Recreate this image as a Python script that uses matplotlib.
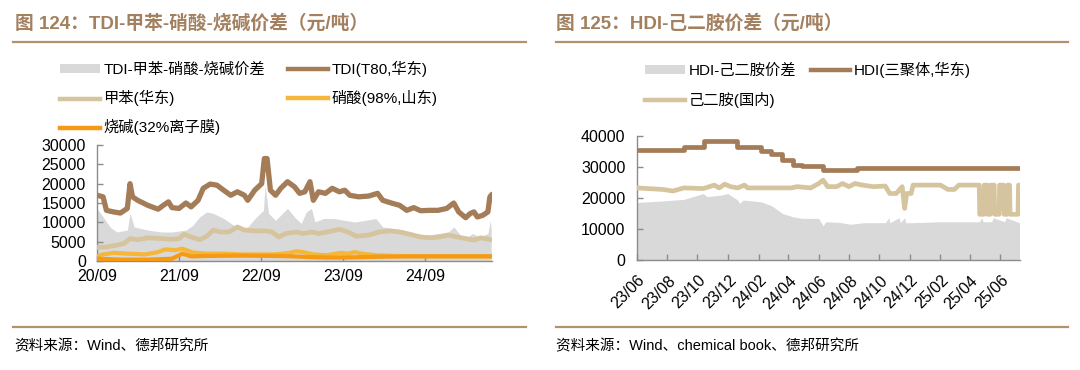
import numpy as np
import pandas as pd
import matplotlib
matplotlib.use("Agg")
import matplotlib.pyplot as plt
import matplotlib.dates as mdates
from matplotlib.lines import Line2D
from matplotlib.patches import Patch
from matplotlib.transforms import ScaledTranslation

plt.rcParams['font.family'] = ['Liberation Sans', 'Noto Sans CJK SC']
plt.rcParams['axes.unicode_minus'] = False

# ---------------- left chart data (元/吨) ----------------
tdi_dates = ["2020-09-01", "2020-09-28", "2020-10-13", "2020-11-13", "2020-12-14", "2021-01-14",
             "2021-01-26", "2021-02-06", "2021-03-01", "2021-04-15", "2021-05-31", "2021-06-23",
             "2021-07-16", "2021-08-01", "2021-09-01", "2021-10-02", "2021-10-25", "2021-11-25",
             "2021-12-18", "2022-01-18", "2022-02-17", "2022-03-19", "2022-04-19", "2022-05-19",
             "2022-06-19", "2022-07-04", "2022-08-04", "2022-09-04", "2022-09-16", "2022-09-28",
             "2022-10-13", "2022-11-05", "2022-11-28", "2022-12-28", "2023-01-28", "2023-02-20",
             "2023-03-15", "2023-04-07", "2023-04-22", "2023-05-15", "2023-06-15", "2023-07-15",
             "2023-08-16", "2023-09-09", "2023-10-01", "2023-11-09", "2023-12-25", "2024-02-02",
             "2024-02-25", "2024-04-03", "2024-05-10", "2024-06-11", "2024-07-12", "2024-08-12",
             "2024-09-19", "2024-10-28", "2024-12-06", "2025-01-06", "2025-01-28", "2025-02-28",
             "2025-03-21", "2025-04-06", "2025-04-21", "2025-05-15", "2025-06-07", "2025-06-16",
             "2025-06-22"]
tdi = [17000, 16600, 13100, 12700, 12400, 13600,
       20000, 16600, 15700, 14400, 13400, 14400,
       15300, 13800, 13600, 15000, 14000, 15700,
       18800, 19900, 19600, 18300, 17000, 17900,
       17000, 15700, 18300, 20000, 26500, 26500,
       18300, 17000, 18800, 20500, 19200, 17500,
       17900, 20500, 15700, 17900, 17500, 18800,
       17900, 18300, 17000, 16600, 16800, 17500,
       15700, 15000, 14400, 13100, 13800, 13000,
       13100, 13100, 13600, 15000, 12700, 11200,
       12300, 12700, 11400, 11800, 12700, 16600,
       17000]

tol_dates = ["2020-09-01", "2020-10-13", "2020-11-28", "2020-12-29", "2021-01-26", "2021-03-01",
             "2021-04-15", "2021-06-16", "2021-08-01", "2021-09-01", "2021-09-24", "2021-10-25",
             "2021-12-02", "2022-01-02", "2022-02-01", "2022-03-04", "2022-04-11", "2022-05-19",
             "2022-06-19", "2022-08-04", "2022-09-19", "2022-10-20", "2022-11-20", "2022-12-20",
             "2023-02-05", "2023-03-07", "2023-04-14", "2023-05-15", "2023-06-22", "2023-08-16",
             "2023-09-23", "2023-11-01", "2023-12-25", "2024-02-09", "2024-03-26", "2024-05-10",
             "2024-06-26", "2024-08-12", "2024-09-27", "2024-11-04", "2024-12-13", "2025-01-21",
             "2025-02-28", "2025-04-06", "2025-05-07", "2025-06-22"]
toluene = [3500, 3600, 4100, 4500, 5800, 5500,
           6000, 5800, 5600, 5800, 6900, 6200,
           5500, 6400, 8000, 7500, 7500, 8800,
           8000, 7800, 7800, 7500, 6200, 7100,
           7500, 7100, 7500, 7100, 7500, 8200,
           7500, 6400, 6700, 7500, 7800, 7500,
           6900, 6200, 6000, 6200, 6700, 6200,
           5800, 5400, 6000, 5500]

nit_dates = ["2020-09-01", "2020-09-28", "2020-11-13", "2021-01-14", "2021-04-01", "2021-05-31",
             "2021-07-01", "2021-08-16", "2021-09-16", "2021-11-01", "2022-01-02", "2022-03-19",
             "2022-06-04", "2022-08-19", "2022-11-05", "2023-01-05", "2023-02-05", "2023-03-07",
             "2023-04-22", "2023-06-22", "2023-08-24", "2023-09-23", "2023-10-24", "2023-11-24",
             "2024-01-25", "2024-04-25", "2024-09-27", "2025-02-28", "2025-06-22"]
nitric = [1200, 1700, 2100, 1900, 1700, 2300,
          3000, 2800, 3200, 2200, 1900, 1900,
          1700, 1700, 1700, 2100, 2500, 2300,
          1700, 1500, 2100, 1900, 2300, 1900,
          1500, 1300, 1200, 1200, 1200]

naoh_dates = ["2020-09-01", "2020-12-14", "2021-04-15", "2021-08-01", "2021-09-16", "2021-10-25",
              "2022-01-02", "2022-06-04", "2022-11-05", "2023-01-21", "2023-04-07", "2023-06-22",
              "2023-09-09", "2024-02-09", "2024-07-12", "2024-12-13", "2025-06-22"]
naoh = [600, 350, 350, 600, 1900, 1200,
        1300, 1400, 1300, 1200, 1000, 900,
        900, 1100, 1200, 1200, 1200]

spr_dates = ["2020-09-01", "2020-09-28", "2020-10-29", "2020-11-28", "2021-01-14", "2021-01-26",
             "2021-02-14", "2021-04-15", "2021-06-16", "2021-08-01", "2021-10-02", "2021-11-01",
             "2021-12-02", "2022-01-02", "2022-02-01", "2022-03-19", "2022-05-04", "2022-06-04",
             "2022-07-04", "2022-08-12", "2022-09-12", "2022-09-19", "2022-10-05", "2022-11-05",
             "2022-12-05", "2022-12-28", "2023-01-28", "2023-02-27", "2023-03-22", "2023-04-14",
             "2023-04-29", "2023-06-07", "2023-07-23", "2023-09-09", "2023-10-24", "2023-12-09",
             "2024-01-25", "2024-02-25", "2024-04-11", "2024-05-27", "2024-07-12", "2024-09-12",
             "2024-10-28", "2024-12-13", "2025-01-06", "2025-02-05", "2025-03-08", "2025-03-31",
             "2025-05-01", "2025-06-07", "2025-06-18", "2025-06-22"]
tdi_spread = [13600, 11400, 8800, 7500, 8000, 12300,
              8800, 8000, 7500, 7500, 8000, 9200,
              11400, 12700, 12300, 11000, 9200, 8400,
              8800, 11400, 13100, 19600, 12300, 10500,
              12300, 13600, 11400, 9700, 12700, 13600,
              10100, 11000, 11000, 10500, 10100, 10500,
              11000, 8800, 8400, 8000, 7100, 6700,
              7100, 7500, 8800, 6700, 6200, 7100,
              6200, 7100, 10500, 8000]

left_ticks = ["2020-09-01", "2021-09-01", "2022-09-01", "2023-09-01", "2024-09-01"]
left_ticklabels = ["20/09", "21/09", "22/09", "23/09", "24/09"]

# ---------------- right chart data (元/吨) ----------------
hdi_dates = ["2023-06-01", "2023-09-04", "2023-10-14", "2023-12-20", "2024-02-07", "2024-02-27",
             "2024-03-20", "2024-04-10", "2024-04-28", "2024-06-10", "2024-08-17", "2025-07-10"]
hdi = [35500, 36500, 38400, 36300, 35100, 34000,
       32100, 30700, 30100, 29000, 29500, 29500]

hmda_dates = ["2023-06-01", "2023-07-24", "2023-08-13", "2023-09-04", "2023-10-13", "2023-11-04",
              "2023-11-14", "2023-11-25", "2023-12-07", "2023-12-21", "2024-01-04", "2024-01-10",
              "2024-04-07", "2024-04-19", "2024-05-16", "2024-06-01", "2024-06-10", "2024-06-19",
              "2024-07-07", "2024-07-19", "2024-08-01", "2024-08-13", "2024-08-28", "2024-09-19",
              "2024-10-13", "2024-10-22", "2024-11-04", "2024-11-16", "2024-11-21", "2024-11-25",
              "2024-12-04", "2024-12-08", "2025-02-01", "2025-02-16", "2025-03-01", "2025-03-10",
              "2025-04-20", "2025-04-21", "2025-04-29", "2025-04-30", "2025-05-06", "2025-05-07",
              "2025-05-12", "2025-05-13", "2025-05-20", "2025-05-21", "2025-05-30", "2025-05-31",
              "2025-06-08", "2025-06-09", "2025-06-15", "2025-06-16", "2025-06-20", "2025-06-21",
              "2025-07-07", "2025-07-08", "2025-07-10"]
hmda = [23200, 22700, 22200, 23200, 23000, 24100,
        23200, 24400, 23600, 23200, 24100, 23200,
        23200, 23600, 23200, 24600, 25700, 23600,
        23600, 24600, 23600, 24600, 24100, 23600,
        23800, 21400, 21400, 23600, 16600, 21400,
        21400, 24100, 24100, 22700, 22700, 24100,
        24100, 14700, 14700, 24100, 24100, 14700,
        14700, 24100, 24100, 14700, 14700, 24100,
        24100, 14700, 14700, 24100, 24100, 14700,
        14700, 24100, 24100]

hspr_dates = ["2023-06-01", "2023-07-24", "2023-09-04", "2023-10-13", "2023-10-20", "2023-11-19",
              "2023-12-01", "2023-12-21", "2023-12-25", "2024-01-01", "2024-02-07", "2024-02-27",
              "2024-03-20", "2024-04-10", "2024-04-28", "2024-06-01", "2024-06-10", "2024-06-15",
              "2024-07-13", "2024-08-04", "2024-08-31", "2024-10-13", "2024-10-20", "2024-10-22",
              "2024-11-10", "2024-11-12", "2024-11-21", "2024-11-23", "2024-12-05", "2025-02-01",
              "2025-04-20", "2025-04-25", "2025-04-28", "2025-05-15", "2025-05-18", "2025-06-10",
              "2025-06-13", "2025-07-10"]
hdi_spread = [18500, 19000, 19500, 21400, 20400, 20900,
              21400, 19300, 18200, 19300, 18700, 17500,
              15000, 13900, 13400, 13400, 11000, 12300,
              12100, 11500, 12000, 12000, 13600, 12000,
              13600, 12000, 13600, 12000, 12000, 12300,
              12300, 13600, 12300, 12300, 13600, 12300,
              13600, 12000]

right_ticks = pd.date_range("2023-06-01", "2025-06-01", freq="2MS")
right_ticklabels = [d.strftime("%y/%m") for d in right_ticks]

brown = '#A47D58'
tan = '#D6C49E'
yellow = '#F6B63A'
orange = '#F59A12'
grey = '#D9D9D9'
rule_c = '#B2916F'
title_c = '#A3805F'

fig = plt.figure(figsize=(10.8, 3.7), dpi=100)
W, H = 1080., 370.


def fx(px):
    return px / W


def fy(py):
    return 1 - py / H


def style_axes(ax):
    for s in ['top', 'right']:
        ax.spines[s].set_visible(False)
    for s in ['left', 'bottom']:
        ax.spines[s].set_color('#8C8C8C')
        ax.spines[s].set_linewidth(1.0)
    ax.tick_params(axis='both', direction='in', length=4, width=1.0, color='#8C8C8C',
                   labelsize=11.5, labelcolor='#000000')
    ax.tick_params(axis='y', pad=8)


# ---- left ----
ax1 = fig.add_axes([fx(97), fy(261), fx(491.7) - fx(97), fy(145) - fy(261)])
ax1.fill_between(pd.to_datetime(spr_dates), tdi_spread, color=grey, lw=0, zorder=1)
ax1.plot(pd.to_datetime(tdi_dates), tdi, color=brown, lw=3.8, zorder=3)
ax1.plot(pd.to_datetime(tol_dates), toluene, color=tan, lw=3.4, zorder=3)
ax1.plot(pd.to_datetime(nit_dates), nitric, color=yellow, lw=3.0, zorder=3)
ax1.plot(pd.to_datetime(naoh_dates), naoh, color=orange, lw=3.0, zorder=4)
ax1.set_ylim(0, 30000)
ax1.set_yticks(range(0, 30001, 5000))
ax1.set_xlim(pd.Timestamp("2020-09-01"), pd.Timestamp("2025-06-24"))
ax1.set_xticks(pd.to_datetime(left_ticks))
ax1.set_xticklabels(left_ticklabels)
style_axes(ax1)
ax1.tick_params(axis='x', pad=6)

h1 = [Patch(facecolor=grey, edgecolor='none'),
      Line2D([], [], color=tan, lw=3.2),
      Line2D([], [], color=orange, lw=3.2),
      Line2D([], [], color=brown, lw=3.2),
      Line2D([], [], color=yellow, lw=3.2)]
l1 = ["TDI-甲苯-硝酸-烧碱价差", "甲苯(华东)", "烧碱(32%离子膜)", "TDI(T80,华东)", "硝酸(98%,山东)"]
fig.legend(h1, l1, loc='upper left', bbox_to_anchor=(fx(60), fy(61)), ncol=2, frameon=False,
           fontsize=11, borderpad=0, borderaxespad=0, handlelength=2.6, handleheight=0.5,
           handletextpad=0.25, columnspacing=1.5, labelspacing=0.85)

# ---- right ----
ax2 = fig.add_axes([fx(636.7), fy(260), fx(1019.5) - fx(636.7), fy(135.7) - fy(260)])
ax2.fill_between(pd.to_datetime(hspr_dates), hdi_spread, color=grey, lw=0, zorder=1)
ax2.plot(pd.to_datetime(hdi_dates), hdi, color=brown, lw=3.4, drawstyle='steps-post', zorder=3)
ax2.plot(pd.to_datetime(hmda_dates), hmda, color=tan, lw=3.4, zorder=3)
ax2.set_ylim(0, 40000)
ax2.set_yticks(range(0, 40001, 10000))
ax2.set_xlim(pd.Timestamp("2023-06-01"), pd.Timestamp("2025-07-10"))
ax2.set_xticks(right_ticks)
ax2.set_xticklabels(right_ticklabels, rotation=45, ha='right', va='center', rotation_mode='anchor')
style_axes(ax2)
ax2.tick_params(axis='x', pad=13)
shift = ScaledTranslation(6 / 100., 0, fig.dpi_scale_trans)
for lab in ax2.get_xticklabels():
    lab.set_transform(lab.get_transform() + shift)

h2 = [Patch(facecolor=grey, edgecolor='none'),
      Line2D([], [], color=tan, lw=3.2),
      Line2D([], [], color=brown, lw=3.2)]
l2 = ["HDI-己二胺价差", "己二胺(国内)", "HDI(三聚体,华东)"]
fig.legend(h2, l2, loc='upper left', bbox_to_anchor=(fx(645), fy(62)), ncol=2, frameon=False,
           fontsize=11, borderpad=0, borderaxespad=0, handlelength=2.6, handleheight=0.5,
           handletextpad=0.25, columnspacing=0.95, labelspacing=0.9)

# ---- titles, rules, sources ----
fig.text(fx(15), fy(23), "图 124：TDI-甲苯-硝酸-烧碱价差（元/吨）", color=title_c,
         fontsize=13.5, fontweight='bold', va='center', ha='left')
fig.text(fx(556), fy(23), "图 125：HDI-己二胺价差（元/吨）", color=title_c,
         fontsize=13.5, fontweight='bold', va='center', ha='left')
for x0, x1 in [(13, 526), (556, 1068)]:
    for yy in (42, 327):
        fig.add_artist(Line2D([fx(x0), fx(x1)], [fy(yy), fy(yy)], color=rule_c, lw=1.6))
fig.text(fx(14), fy(346), "资料来源：Wind、德邦研究所", fontsize=10.5, va='center', ha='left',
         color='#000000')
fig.text(fx(556), fy(346), "资料来源：Wind、chemical book、德邦研究所", fontsize=10.5,
         va='center', ha='left', color='#000000')

fig.savefig("out.png", dpi=100)
